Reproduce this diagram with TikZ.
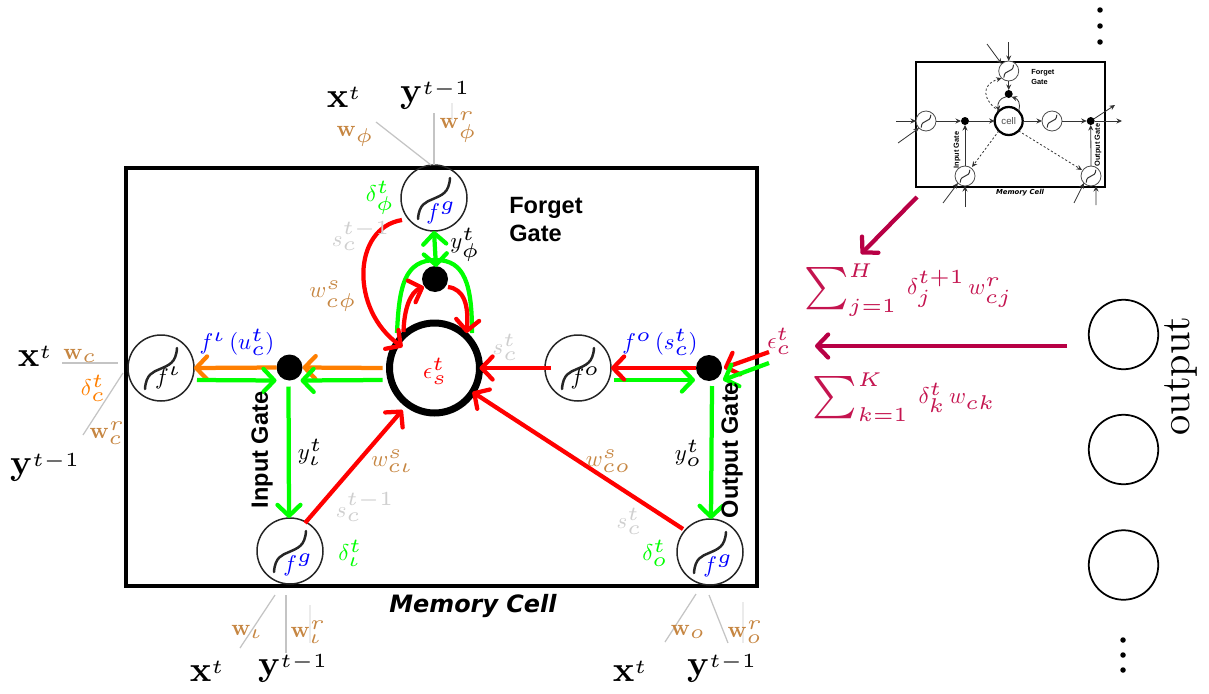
\documentclass[tikz,border=0pt]{standalone}
\usepackage{fontspec}
\setsansfont{Liberation Sans}
\newfontfamily\memfont{DejaVu Sans}
\usetikzlibrary{arrows.meta}
\DeclareFontShape{OML}{cmm}{m}{it}{<5><6> cmmi5 <7><8> s*[1.25] cmmi5 <9> cmmi9 <10> cmmi10 <10.95> cmmi10 <12> cmmi12}{\skewchar\font127 }
\DeclareFontShape{OMS}{cmsy}{m}{n}{<5><6> cmsy5 <7><8> s*[1.25] cmsy5 <9> cmsy9 <10> cmsy10 <10.95> cmsy10 <12> cmsy10}{\skewchar\font48 }
\DeclareFontShape{OT1}{cmr}{m}{n}{<5><6> cmr5 <7><8> s*[1.25] cmr5 <9> cmr9 <10> cmr10 <10.95> cmr10 <12> cmr12}{}
\DeclareMathAlphabet{\mathbfx}{OT1}{cmr}{bx}{n}
\DeclareMathAlphabet{\mathone}{OT1}{cmr}{m}{n}
\newcommand\bigbf[1]{\scalebox{1.56}{$\mathbfx{#1}$}}
\newcommand\bigsum{\mathop{\vcenter{\hbox{\scalebox{1.85}{$\sum$}}}}\nolimits}
\definecolor{tanc}{HTML}{C68642}
\definecolor{grayl}{HTML}{CFCFCF}
\definecolor{grayk}{HTML}{C4C4C4}
\definecolor{magc}{HTML}{B80045}
\definecolor{magt}{HTML}{C4144F}
\definecolor{orc}{HTML}{FF7F00}
\definecolor{grc}{HTML}{00FF00}
\definecolor{redc}{HTML}{FF0000}
\definecolor{bluec}{HTML}{0000FF}
\tikzset{
  bigtip/.style={-{Straight Barb[length=2.2mm,width=4.6mm,round]}},
  bigboth/.style={{Straight Barb[length=2.2mm,width=4.6mm,round]}-{Straight Barb[length=2.2mm,width=4.6mm,round]}},
  wire/.style={line width=0.085cm},
  rw/.style={wire,redc,bigtip},
  gw/.style={wire,grc,bigtip},
  ow/.style={wire,orc,bigtip},
  mw/.style={wire,magc,bigtip},
  gatec/.style={circle,draw=black!85,line width=0.03cm,minimum size=1.32cm,inner sep=0,outer sep=0},
  dotc/.style={circle,fill=black,minimum size=0.52cm,inner sep=0,outer sep=0},
  outc/.style={circle,draw=black,line width=0.035cm,minimum size=1.39cm,inner sep=0,outer sep=0},
  smalldot/.style={circle,fill=black,minimum size=0.11cm,inner sep=0,outer sep=0},
  bigm/.style={scale=1.3,inner sep=0},
  tanm/.style={scale=1.3,text=tanc,inner sep=0},
  graym/.style={scale=1.3,text=grayl,inner sep=0},
  grm/.style={scale=1.3,text=grc,inner sep=0},
  blm/.style={scale=1.3,text=bluec,inner sep=0},
  kkm/.style={scale=1.3,text=black,inner sep=0},
  summ/.style={scale=1.3,text=magt,inner sep=0},
  hair/.style={draw=grayk,line width=0.025cm},
  faint/.style={draw=black!8,line width=0.025cm},
  gatetext/.style={font=\sffamily\bfseries\fontsize{13.4}{15}\selectfont,inner sep=0},
  sig/.pic={\draw[line cap=round] (-16,21) .. controls (-15,6) and (-8,4) .. (-1,1) .. controls (8,-3) and (15,-5) .. (16,-20);},
  tg/.style={circle,draw=black!70,line width=0.016cm,minimum size=0.4cm,inner sep=0,outer sep=0,fill=white},
  td/.style={circle,fill=black,minimum size=0.16cm,inner sep=0,outer sep=0},
  ta/.style={draw=black!80,line width=0.016cm,-{Stealth[length=1.1mm,width=1mm]}},
  tda/.style={ta,dash pattern=on 1.2pt off 1.2pt},
  ttext/.style={inner sep=0,font=\sffamily\bfseries\fontsize{4.2}{5}\selectfont},
}
\begin{document}
\begin{tikzpicture}[x=0.02cm,y=-0.02cm]
\useasboundingbox (0,0) rectangle (1209,693);
% memory cell box
\node[draw=black,line width=0.085cm,minimum width=12.62cm,minimum height=8.36cm,inner sep=0,outer sep=0] (box) at (441.5,377) {};
% gates
\node[gatec] (gf) at (434,198) {};
\node[gatec] (gi) at (161,368) {};
\node[gatec] (go) at (578,368) {};
\node[gatec] (gin) at (290,551) {};
\node[gatec] (gout) at (710,552) {};
\foreach \n in {gf,gi,go,gin,gout}{\pic[draw=black!85,line width=0.05cm] at (\n.center) {sig};}
\node[circle,draw=black,line width=0.14cm,minimum size=1.8cm,inner sep=0,outer sep=0] (cell) at (434.5,368) {};
\node[dotc] (df) at (435,279) {};
\node[dotc] (di) at (289.5,367.5) {};
\node[dotc] (dout) at (709,368) {};
\coordinate (ecr) at (769,352);
\coordinate (ecg) at (769,363);
\coordinate (mts) at (917,197);
\coordinate (mto) at (1067,346);
\coordinate (mtp) at (861,254);
\coordinate (mtc) at (815,346);
\coordinate (xfa) at (376,122);
\coordinate (xfb) at (434,113);
\coordinate (xfc) at (452,103);
\coordinate (xfd) at (452,120);
% orange
\draw[ow] ([shift={(-7,0)}]cell.west) -- (di.east);
\draw[ow] (di.west) -- (gi.east);
% green horizontal
\draw[gw] ([shift={(-7,12)}]cell.west) -- ([shift={(11,13)}]di.center);
\draw[gw] ([shift={(3,12)}]gi.east) -- ([shift={(-13,13)}]di.center);
\draw[gw] ([shift={(-1,19)}]di.center) -- ([shift={(-1,0)}]gin.north);
\draw[gw] ([shift={(3,12)}]go.east) -- ([shift={(-14,12)}]dout.center);
\draw[gw] ([shift={(3,18)}]dout.center) -- ([shift={(1,0)}]gout.north);
% red
\draw[rw] ([shift={(-13,0)}]dout.center) -- (go.east);
\draw[rw] ([shift={(6,0)}]go.west) -- (cell.east);
\draw[rw] ([shift={(-27,-23)}]gout.center) -- ([shift={(38,24)}]cell.center);
\draw[rw] ([shift={(15,-28)}]gin.center) -- ([shift={(-32,42)}]cell.center);
\draw[rw] (ecr) -- ([shift={(15,0)}]dout.center);
\draw[gw] (ecg) -- ([shift={(14,12)}]dout.center);
% forget gate wires
\draw[wire,grc,bigboth] (gf.south) -- ([shift={(1,-12)}]df.center);
\draw[wire,grc] ([shift={(-37.5,-35)}]cell.center) .. controls (399,285) and (405,260) .. ([shift={(1,-19)}]df.center) .. controls (465,260) and (472,285) .. ([shift={(37.5,-35)}]cell.center);
\draw[rw] ([shift={(-31,-36)}]cell.center) .. controls (404,310) and (410,292) .. ([shift={(-11,8)}]df.center);
\draw[rw] ([shift={(13,8)}]df.center) .. controls (464,289) and (469,305) .. ([shift={(32,-35)}]cell.center);
\draw[rw] ([shift={(-32,22)}]gf.center) .. controls (352,228) and (350,310) .. ([shift={(-32,-21)}]cell.center);
% magenta
\draw[mw] (mts) -- (mtp);
\draw[mw] (mto) -- (mtc);
% gray input lines
\draw[hair] (xfa) -- ([shift={(-3,0)}]gf.north);
\draw[hair] (xfb) -- ([shift={(0,0)}]gf.north);
\draw[faint] (xfc) -- (xfd);
\coordinate (l1) at (62,363); \coordinate (l2) at (118,363);
\coordinate (l3) at (83,435); \coordinate (l4) at (123,373);
\draw[hair] (l1) -- (l2); \draw[hair] (l3) -- (l4);
\coordinate (b1) at (275,595); \coordinate (b2) at (240,648);
\coordinate (b3) at (286,595); \coordinate (b4) at (286,653);
\coordinate (b5) at (310,605); \coordinate (b6) at (310,643);
\draw[hair] (b1) -- (b2); \draw[hair] (b3) -- (b4); \draw[faint] (b5) -- (b6);
\coordinate (c1) at (696,594); \coordinate (c2) at (665,642);
\coordinate (c3) at (709,595); \coordinate (c4) at (728,643);
\coordinate (c5) at (743,602); \coordinate (c6) at (743,643);
\draw[hair] (c1) -- (c2); \draw[hair] (c3) -- (c4); \draw[faint] (c5) -- (c6);
% math labels: top
\node[bigm] (t1) at (344,97) {$\bigbf{x}^{t}$};
\node[bigm] (t2) at (435,95) {$\bigbf{y}^{t-\mathone{1}}$};
\node[tanm] (t3) at (355,136) {$\mathbfx{w}_{\phi}$};
\node[tanm] (t4) at (458,127) {$\mathbfx{w}_{\phi}^{r}$};
\node[grm] (t5) at (380,198) {$\delta_{\phi}^{t}$};
\node[graym] (t6) at (361,236) {$s_{c}^{t-\mathone{1}}$};
\node[kkm] (t7) at (465,245) {$y_{\phi}^{t}$};
\node[tanm] (t8) at (333,296) {$w_{c\phi}^{s}$};
\node[gatetext,align=left,anchor=north west] (fg) at (509,197) {Forget\\[1pt]Gate};
\node[blm] (fa) at (441,213) {$f^{g}$};
\node[blm] (fb) at (298,565) {$f^{g}$};
\node[blm] (fc) at (718,566) {$f^{g}$};
\node[kkm] (fd) at (168,378) {$f^{\iota}$};
\node[kkm] (fe) at (585,378) {$f^{o}$};
\node[blm] (lf1) at (237,342) {$f^{\iota}\,\mathone{(}u_{c}^{t}\mathone{)}$};
\node[blm] (lf2) at (660,342) {$f^{o}\,\mathone{(}s_{c}^{t}\mathone{)}$};
\node[scale=1.3,text=redc,inner sep=0] (eps) at (435,371) {$\epsilon_{s}^{t}$};
\node[graym] (t9) at (505,347) {$s_{c}^{t}$};
\node[scale=1.3,text=magt,inner sep=0] (epc) at (779,341) {$\epsilon_{c}^{t}$};
% left
\node[bigm] (l5) at (35,356) {$\bigbf{x}^{t}$};
\node[bigm] (l6) at (45,467) {$\bigbf{y}^{t-\mathone{1}}$};
\node[tanm] (l7) at (80,356) {$\mathbfx{w}_{c}$};
\node[scale=1.3,text=orc,inner sep=0] (l8) at (93,388) {$\delta_{c}^{t}$};
\node[tanm] (l9) at (107,433) {$\mathbfx{w}_{c}^{r}$};
% mid
\node[kkm] (m1) at (310,452) {$y_{\iota}^{t}$};
\node[tanm] (m2) at (392,461) {$w_{c\iota}^{s}$};
\node[graym] (m3) at (365,507) {$s_{c}^{t-\mathone{1}}$};
\node[grm] (m4) at (350,553) {$\delta_{\iota}^{t}$};
\node[gatetext,rotate=90] (ig) at (262,450) {Input Gate};
\node[kkm] (m5) at (688,453) {$y_{o}^{t}$};
\node[tanm] (m6) at (608,461) {$w_{co}^{s}$};
\node[graym] (m7) at (629,521) {$s_{c}^{t}$};
\node[grm] (m8) at (655,553) {$\delta_{o}^{t}$};
\node[gatetext,rotate=90] (og) at (732,450) {Output Gate};
\node[inner sep=0,font=\memfont\bfseries\itshape\fontsize{13.6}{15}\selectfont] (mc) at (473,606) {Memory Cell};
% bottom
\node[tanm] (b7) at (247,632) {$\mathbfx{w}_{\iota}$};
\node[tanm] (b8) at (308,632) {$\mathbfx{w}_{\iota}^{r}$};
\node[bigm] (b9) at (207,671) {$\bigbf{x}^{t}$};
\node[bigm] (b10) at (293,668) {$\bigbf{y}^{t-\mathone{1}}$};
\node[tanm] (c7) at (688,632) {$\mathbfx{w}_{o}$};
\node[tanm] (c8) at (745,632) {$\mathbfx{w}_{o}^{r}$};
\node[bigm] (c9) at (630,671) {$\bigbf{x}^{t}$};
\node[bigm] (c10) at (722,668) {$\bigbf{y}^{t-\mathone{1}}$};
% sums
\node[summ] (s1) at (908,290) {$\bigsum_{j=\mathone{1}}^{H}\;\delta_{j}^{t+\mathone{1}}\,w_{cj}^{r}$};
\node[summ] (s2) at (904,397) {$\bigsum_{k=\mathone{1}}^{K}\;\delta_{k}^{t}\,w_{ck}$};
% output layer
\node[outc] (o1) at (1123.5,334.5) {};
\node[outc] (o2) at (1123.5,449.5) {};
\node[outc] (o3) at (1123.5,565) {};
\node[rotate=90,scale=2.3,inner sep=0] (otx) at (1181,376) {output};
\foreach \i/\y in {1/10,2/26,3/42}{\node[smalldot] (u\i) at (1100,\y) {};}
\foreach \i/\y in {1/640,2/655,3/670}{\node[smalldot] (v\i) at (1123,\y) {};}
% thumbnail
\node[draw=black,line width=0.03cm,minimum width=3.78cm,minimum height=2.5cm,inner sep=0,outer sep=0] (tb) at (1010.5,124.5) {};
\node[tg] (tf) at (1008.7,71) {};
\node[tg] (ti) at (926,121) {};
\node[tg] (to) at (1052,121) {};
\node[tg] (tin) at (965,176) {};
\node[tg] (tout) at (1091,176) {};
\foreach \n in {tf,ti,to,tin,tout}{\pic[scale=0.3,draw=black!80,line width=0.02cm] at (\n.center) {sig};}
\node[circle,draw=black,line width=0.045cm,minimum size=0.56cm,inner sep=0,outer sep=0,font=\sffamily\fontsize{5.5}{6}\selectfont,text=black!70] (tc) at (1008.7,121) {cell};
\node[td] (tdf) at (1008.7,94) {};
\node[td] (tdi) at (965,121) {};
\node[td] (tdo) at (1090.7,121) {};
\coordinate (p1) at (896,121); \coordinate (p2) at (898,143);
\coordinate (p3) at (987,44); \coordinate (p4) at (1008.7,42);
\coordinate (p5) at (943,203); \coordinate (p6) at (965,207);
\coordinate (p7) at (1074,203); \coordinate (p8) at (1096,205);
\coordinate (p9) at (1122,121); \coordinate (p10) at (1115,105);
\draw[ta] (p1) -- (ti.west);
\draw[ta] (p2) -- (ti.south west);
\draw[ta] (p3) -- (tf.north west);
\draw[ta] (p4) -- (tf.north);
\draw[ta] (p5) -- (tin.south west);
\draw[ta] (p6) -- (tin.south);
\draw[ta] (p7) -- (tout.south west);
\draw[ta] (p8) -- ([xshift=0.1cm]tout.south);
\draw[ta] (tdo) -- (p9);
\draw[ta] (tdo) -- (p10);
\draw[ta] (ti.east) -- (tdi);
\draw[ta] (tdi) -- (tc.west);
\draw[ta] (tc.east) -- (to.west);
\draw[ta] (to.east) -- (tdo);
\draw[ta] (tin.north) -- (tdi);
\draw[ta] (tout.north) -- (tdo);
\draw[ta] (tf.south) -- (tdf);
\draw[ta] (tdf.south west) .. controls (1000,98) and (997,103) .. (tc.north west);
\draw[ta] (tc.north east) .. controls (1021,103) and (1018,99) .. (tdf.south east);
\draw[tda] (tc.south west) -- ([shift={(7,-9)}]tin.center);
\draw[tda] (tc.south east) -- ([shift={(-9,-6)}]tout.center);
\draw[tda] (tc.north west) .. controls (983,100) and (980,85) .. (tf.south west);
\node[ttext,align=left,anchor=north west] (ft) at (1031,69) {Forget\\[1pt]Gate};
\node[ttext,rotate=90] (it) at (957,150) {Input Gate};
\node[ttext,rotate=90] (ot) at (1098,145) {Output Gate};
\node[inner sep=0,font=\memfont\bfseries\itshape\fontsize{3.9}{5}\selectfont] (mt) at (1020,193) {Memory Cell};
\end{tikzpicture}
\end{document}
